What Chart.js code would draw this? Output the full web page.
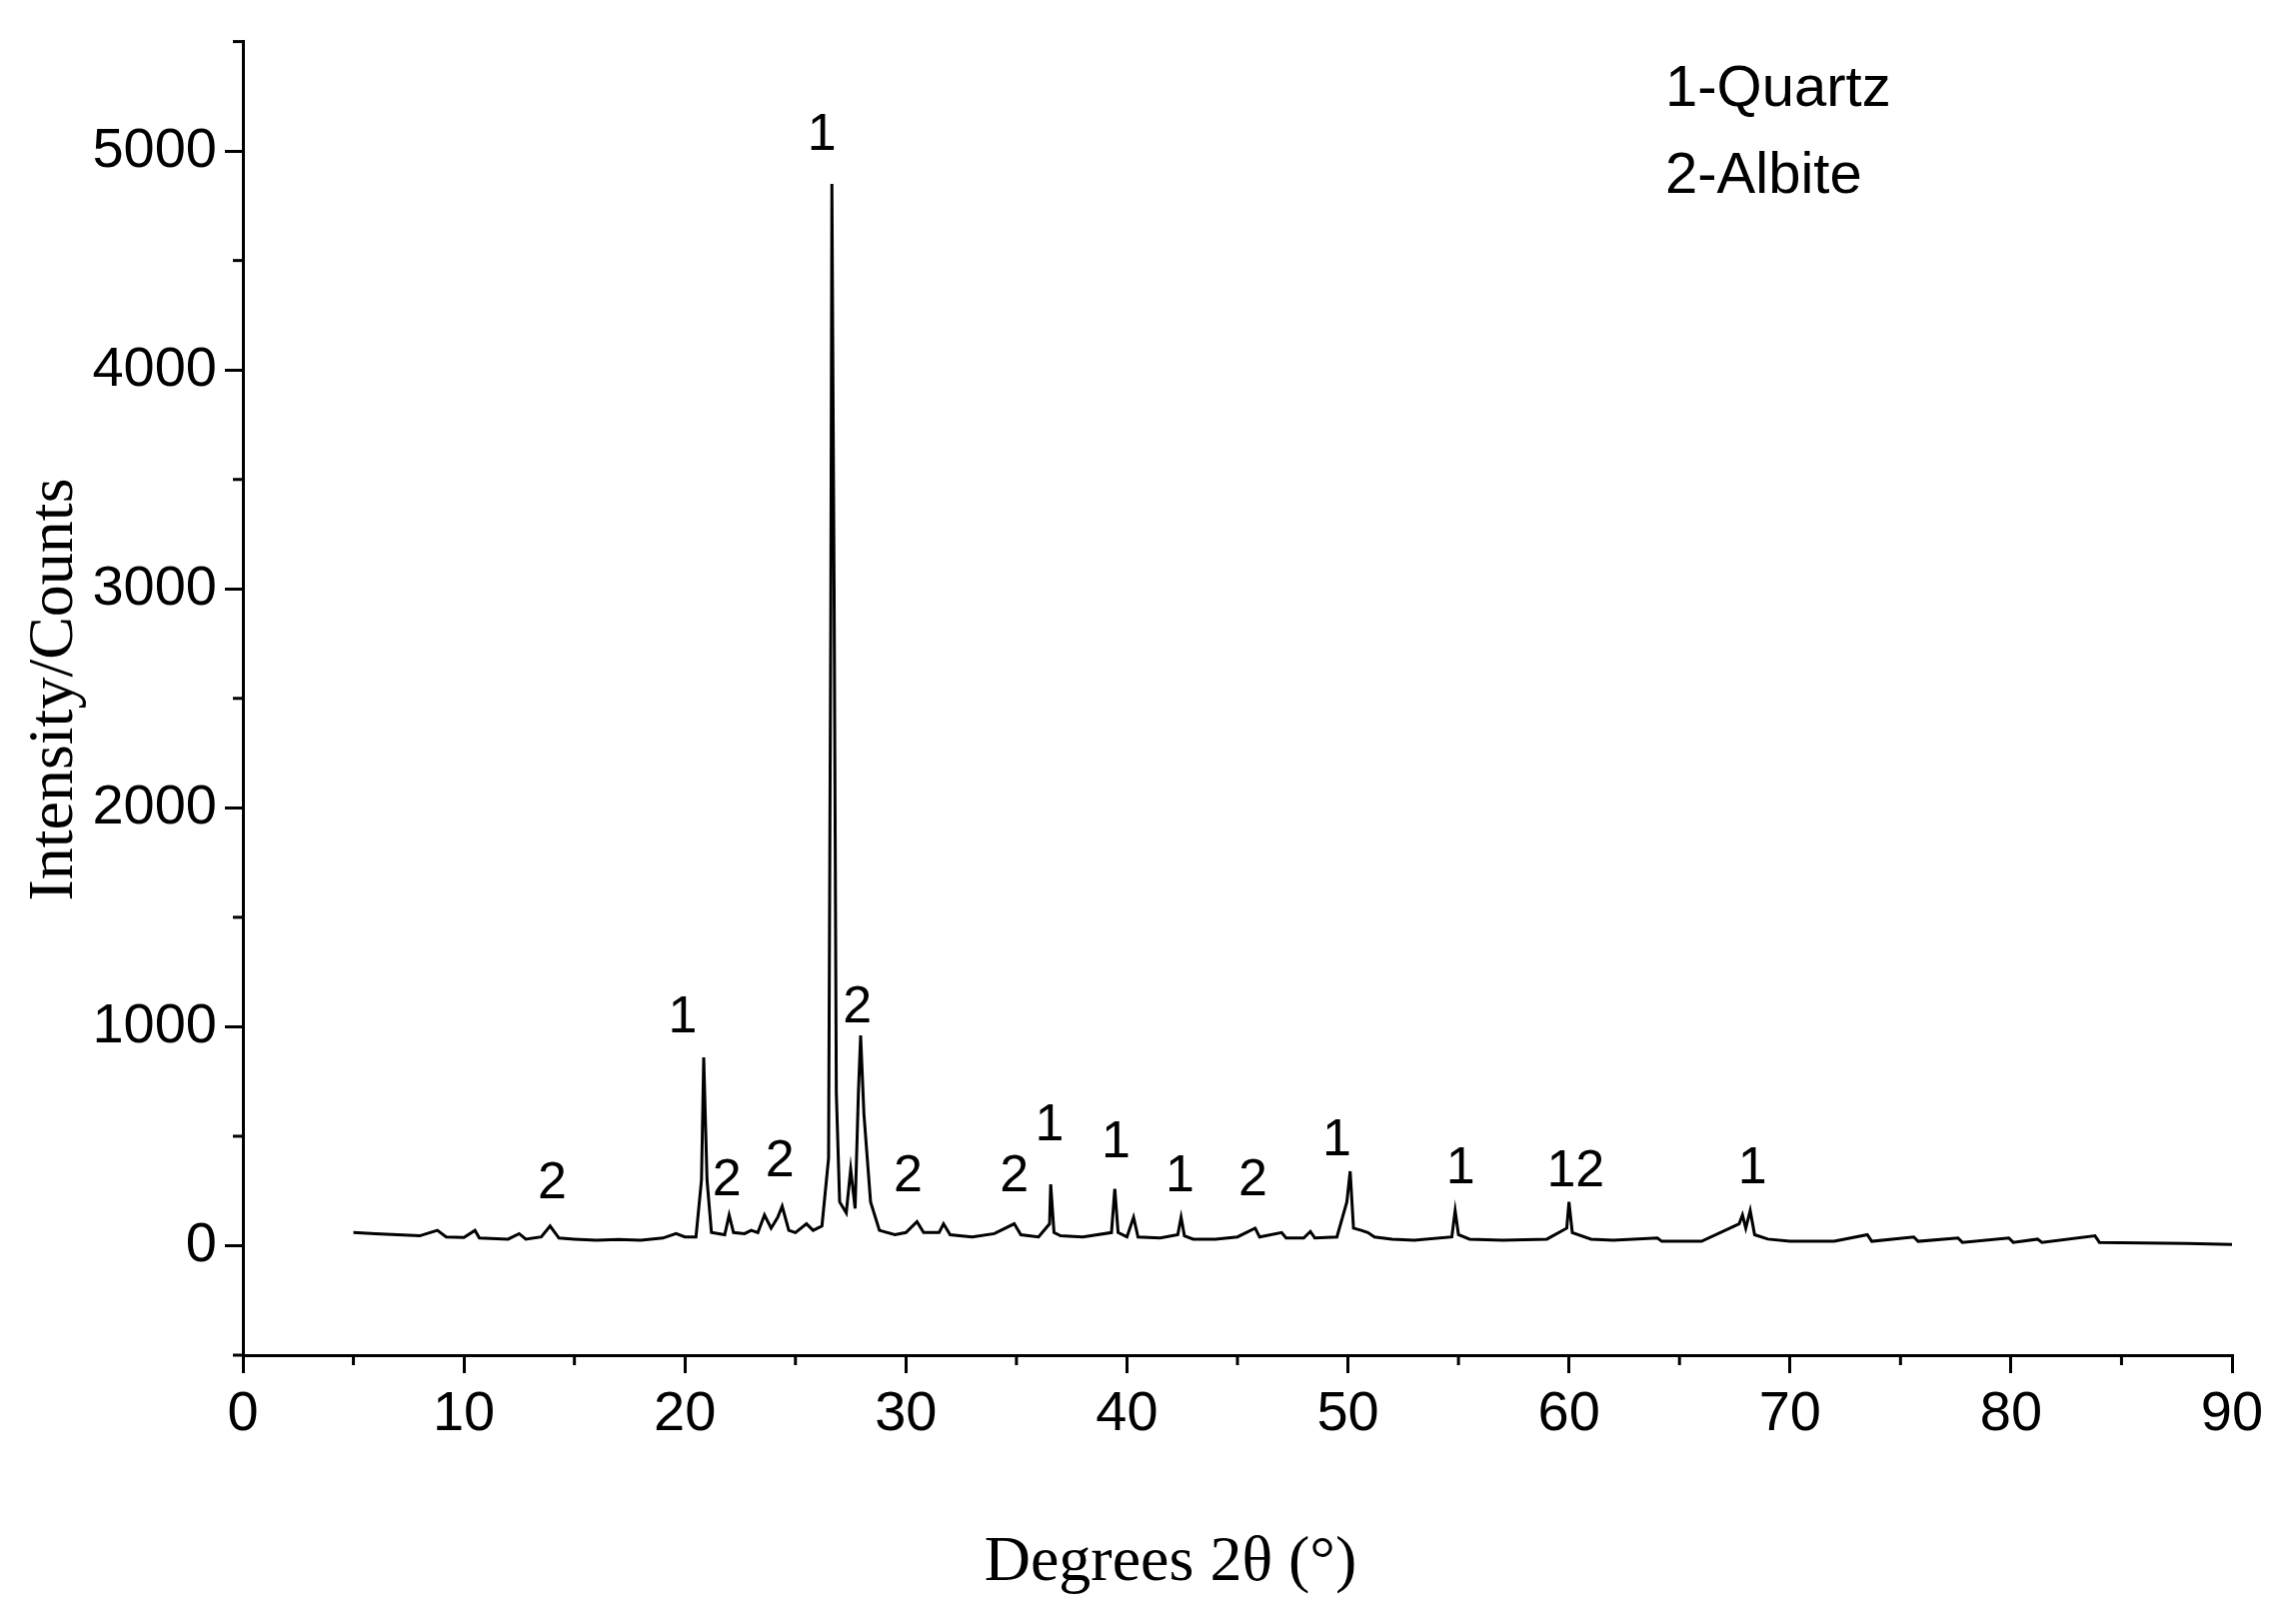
<!DOCTYPE html>
<html><head><meta charset="utf-8">
<script src="https://cdn.jsdelivr.net/npm/chart.js@4/dist/chart.umd.min.js"></script>
<style>html,body{margin:0;padding:0;background:#fff}#w{width:2281px;height:1625px}</style>
</head><body><div id="w"><canvas id="c"></canvas></div>
<script>
const twoTheta=[5,6,7,8,8.8,9.2,10,10.5,10.7,12,12.5,12.8,13.5,13.9,14.3,15,16,17,18,19,19.6,20,20.5,20.75,20.85,21.0,21.2,21.8,22.0,22.2,22.7,23.0,23.3,23.6,23.9,24.2,24.4,24.7,25,25.5,25.8,26.2,26.5,26.6,26.65,26.75,26.85,27.0,27.3,27.5,27.7,27.85,27.95,28.1,28.4,28.8,29.5,30.0,30.5,30.8,31.5,31.7,32,33,34,34.9,35.2,36,36.5,36.55,36.7,37,38,39.3,39.45,39.6,40.0,40.3,40.5,41.5,42.3,42.45,42.6,43,44,45,45.8,46,47,47.2,48,48.3,48.5,49.5,49.95,50.1,50.25,50.6,50.9,51.2,52,53,54.7,54.85,55.0,55.5,57,59,59.9,60.0,60.15,61,62,64,64.2,66,67.7,67.85,68.0,68.2,68.4,69,70,72,73.5,73.7,75.6,75.8,77.6,77.8,79.9,80.1,81.2,81.4,83.8,84,86,88,90];
const counts=[60,55,50,45,70,40,38,70,35,30,55,30,40,90,35,30,25,28,25,35,55,40,40,300,860,300,60,50,140,60,55,70,60,140,80,130,180,70,60,100,70,90,400,2900,4850,3000,700,200,150,350,170,700,960,600,200,70,50,60,110,60,60,100,50,40,55,100,50,40,100,280,60,45,40,60,260,60,40,130,40,35,50,130,45,30,30,40,80,40,60,35,35,65,35,40,200,340,80,70,60,40,30,25,40,160,50,30,25,30,80,200,60,30,25,35,20,20,100,140,80,160,50,30,20,20,50,20,40,20,35,15,35,15,30,15,45,15,12,10,5];
const peakLabels=["2","1","2","2","1","2","2","2","1","1","1","2","1","1","12","1"];
const peakLabelX=[14.0,19.9,21.9,24.3,26.2,27.8,30.1,34.9,36.5,39.5,42.4,45.7,49.5,55.1,60.3,68.3];
const peakLabelY=[165,920,178,263,4950,967,197,197,428,349,197,178,362,230,217,230];
const legendLines=["1-Quartz","2-Albite"];
const xTicks=[0,10,20,30,40,50,60,70,80,90];
const yTicks=[0,1000,2000,3000,4000,5000];

const deco={id:'deco',afterDraw(ch){
  const c=ch.ctx,x=ch.scales.x,y=ch.scales.y;
  c.save();c.strokeStyle='#000';c.lineWidth=3;
  for(let v=-500;v<=5500;v+=1000){const py=y.getPixelForValue(v);c.beginPath();c.moveTo(x.left,py);c.lineTo(x.left-10,py);c.stroke();}
  for(let v=5;v<=85;v+=10){const px=x.getPixelForValue(v);c.beginPath();c.moveTo(px,y.bottom);c.lineTo(px,y.bottom+10);c.stroke();}
  c.fillStyle='#000';c.font='52px "Liberation Sans", Arial';c.textAlign='center';c.textBaseline='bottom';
  peakLabels.forEach((t,i)=>c.fillText(t,x.getPixelForValue(peakLabelX[i]),y.getPixelForValue(peakLabelY[i])));
  c.font='58px "Liberation Sans", Arial';c.textAlign='left';c.textBaseline='middle';
  legendLines.forEach((t,i)=>c.fillText(t,1666,90+i*87));
  c.font='64px "Liberation Serif", "Times New Roman"';c.textAlign='center';
  c.fillText('Degrees 2\u03b8 (\u00b0)',1171,1564);
  c.translate(55,690);c.rotate(-Math.PI/2);c.fillText('Intensity/Counts',0,0);
  c.restore();
}};
new Chart(document.getElementById('c'),{
  type:'line',
  data:{datasets:[{data:twoTheta.map((v,i)=>({x:v,y:counts[i]})),borderColor:'#000',borderWidth:3,pointRadius:0,tension:0}]},
  options:{responsive:true,maintainAspectRatio:false,animation:false,devicePixelRatio:1,
    layout:{padding:{top:2,right:48,left:0,bottom:0}},
    plugins:{legend:{display:false},tooltip:{enabled:false}},
    scales:{
      x:{type:'linear',min:0,max:90,afterFit(s){s.height=269;},
        afterBuildTicks(s){s.ticks=xTicks.map(v=>({value:v}));},
        ticks:{color:'#000',font:{size:56,family:'"Liberation Sans", Arial'},padding:8,maxRotation:0,callback:v=>String(v)},
        grid:{drawOnChartArea:false,tickLength:18,color:'#000',lineWidth:3},border:{color:'#000',width:3}},
      y:{min:-500,max:5500,afterFit(s){s.width=243;},
        afterBuildTicks(s){s.ticks=yTicks.map(v=>({value:v}));},
        ticks:{color:'#000',font:{size:56,family:'"Liberation Sans", Arial'},padding:8,callback:v=>String(v)},
        grid:{drawOnChartArea:false,tickLength:18,color:'#000',lineWidth:3},border:{color:'#000',width:3}}
    }},
  plugins:[deco]
});
</script></body></html>
